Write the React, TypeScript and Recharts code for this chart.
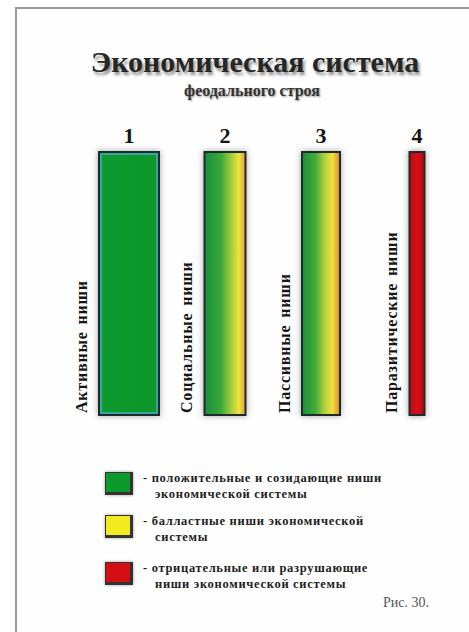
import React from 'react';
import { BarChart, Bar, XAxis, YAxis, LabelList } from 'recharts';

// Feudal economic system: four kinds of niches, full height, different widths
const categories = ['1', '2', '3', '4'];
const nicheNames = ['Активные ниши', 'Социальные ниши', 'Пассивные ниши', 'Паразитические ниши'];
const nicheHeight = [100, 100, 100, 100];
const nicheShare = [60, 41, 38, 15];

const legendFirst = [
    '- положительные и созидающие ниши',
    '- балластные ниши экономической',
    '- отрицательные или разрушающие',
];
const legendSecond = ['экономической системы', 'системы', 'ниши экономической системы'];

const LEGEND_COLORS = ['#0c9a2c', '#f2ea1e', '#d40f14'];
const SERIF = '"Liberation Serif", "DejaVu Serif", serif';

const data = categories.map((c, i) => ({
    name: c,
    label: nicheNames[i],
    value: nicheHeight[i],
    share: nicheShare[i],
}));
const maxShare = Math.max(...nicheShare);

const NicheBar = (props: any) => {
    const { x, y, width, height, index, payload } = props;
    const w = (width * payload.share) / maxShare;
    const left = x + (width - w) / 2;
    const tx = left - 18;
    const ty = y + height - 2;
    return (
        <g>
            <rect
                x={left}
                y={y}
                width={w}
                height={height}
                fill={`url(#niche${index})`}
                stroke="#1f2a2a"
                strokeWidth={2}
                filter="url(#barShadow)"
            />
            {index === 0 && (
                <rect x={left + 2} y={y + 2} width={w - 4} height={height - 4} fill="none" stroke="#3aa6a0" strokeWidth={2} />
            )}
            <text
                x={tx}
                y={ty}
                transform={`rotate(-90 ${tx} ${ty})`}
                textAnchor="start"
                dominantBaseline="central"
                fontFamily={SERIF}
                fontWeight="bold"
                fontSize={16}
                letterSpacing={0.8}
                wordSpacing={2}
                fill="#151515"
            >
                {payload.label}
            </text>
        </g>
    );
};

export default function App() {
    return (
        <div style={{ position: 'absolute', left: 0, top: 0, width: 469, height: 632, background: '#fff', overflow: 'hidden', fontFamily: SERIF }}>
            <div style={{ position: 'absolute', left: 15, top: 7, width: 480, height: 650, borderLeft: '2px solid #9a9a9a', borderTop: '2px solid #9a9a9a', background: '#fefefe' }} />

            <div style={{ position: 'absolute', left: 0, width: 510, top: 45, textAlign: 'center', fontSize: 30, fontWeight: 'bold', color: '#262626', textShadow: '2px 3px 3px rgba(0,0,0,0.45)', whiteSpace: 'nowrap' }}>
                Экономическая система
            </div>
            <div style={{ position: 'absolute', left: 0, width: 504, top: 82, textAlign: 'center', fontSize: 16, fontWeight: 'bold', color: '#333', textShadow: '1px 1px 2px rgba(0,0,0,0.4)', whiteSpace: 'nowrap' }}>
                феодального строя
            </div>

            <div style={{ position: 'absolute', left: 0, top: 0 }}>
                <BarChart width={469} height={632} data={data} margin={{ top: 152, right: 4, bottom: 217, left: 81 }} barCategoryGap={0}>
                    <defs>
                        <filter id="barShadow" x="-50%" y="-10%" width="200%" height="120%">
                            <feDropShadow dx="0" dy="0" stdDeviation="3" floodColor="#555" floodOpacity="0.55" />
                        </filter>
                        <linearGradient id="niche0" x1="0" y1="0" x2="1" y2="0">
                            <stop offset="0%" stopColor="#0e9a2e" />
                            <stop offset="100%" stopColor="#0c962a" />
                        </linearGradient>
                        <linearGradient id="niche1" x1="0" y1="0" x2="1" y2="0">
                            <stop offset="0%" stopColor="#1b8c3a" />
                            <stop offset="40%" stopColor="#3aa83a" />
                            <stop offset="66%" stopColor="#a8cc3c" />
                            <stop offset="84%" stopColor="#f0e43a" />
                            <stop offset="100%" stopColor="#e09a3e" />
                        </linearGradient>
                        <linearGradient id="niche2" x1="0" y1="0" x2="1" y2="0">
                            <stop offset="0%" stopColor="#1c8e3a" />
                            <stop offset="35%" stopColor="#42aa3a" />
                            <stop offset="60%" stopColor="#b4d03c" />
                            <stop offset="80%" stopColor="#f0e23a" />
                            <stop offset="100%" stopColor="#e0862e" />
                        </linearGradient>
                        <linearGradient id="niche3" x1="0" y1="0" x2="1" y2="0">
                            <stop offset="0%" stopColor="#b80c10" />
                            <stop offset="50%" stopColor="#dc1014" />
                            <stop offset="100%" stopColor="#b40c10" />
                        </linearGradient>
                    </defs>
                    <XAxis dataKey="name" hide />
                    <YAxis domain={[0, 100]} hide />
                    <Bar dataKey="value" barSize={60} shape={<NicheBar />} isAnimationActive={false}>
                        <LabelList
                            dataKey="name"
                            position="top"
                            offset={9}
                            style={{ fontFamily: SERIF, fontWeight: 'bold', fontSize: 22, fill: '#151515' }}
                        />
                    </Bar>
                </BarChart>
            </div>

            {legendFirst.map((line, i) => {
                const top = [472, 515, 562][i];
                return (
                    <div key={i}>
                        <div style={{ position: 'absolute', left: 105, top, width: 24, height: 19, background: LEGEND_COLORS[i], border: '1px solid #333', borderRightWidth: 3, borderBottomWidth: 3, boxShadow: '0 0 3px rgba(0,0,0,0.4)' }} />
                        <div style={{ position: 'absolute', left: 143, top: top - 1, fontSize: 12.5, letterSpacing: 0.7, fontWeight: 'bold', color: '#222', whiteSpace: 'nowrap' }}>{line}</div>
                        <div style={{ position: 'absolute', left: 155, top: top + 15, fontSize: 12.5, letterSpacing: 0.7, fontWeight: 'bold', color: '#222', whiteSpace: 'nowrap' }}>{legendSecond[i]}</div>
                    </div>
                );
            })}

            <div style={{ position: 'absolute', left: 383, top: 595, fontSize: 14, color: '#555', whiteSpace: 'nowrap' }}>Рис. 30.</div>
        </div>
    );
}
